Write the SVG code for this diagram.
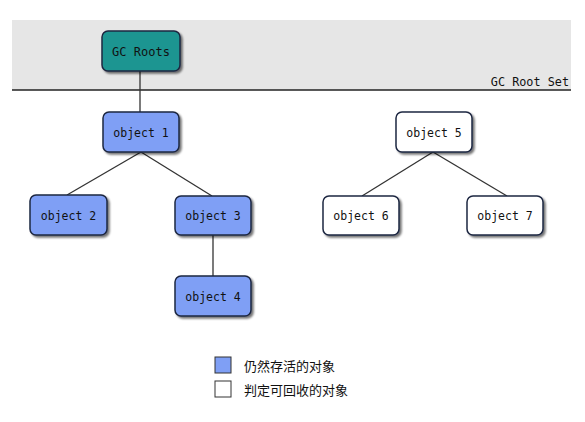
<svg xmlns="http://www.w3.org/2000/svg" width="585" height="422" viewBox="0 0 585 422">
<defs>
<filter id="sh" x="-20%" y="-20%" width="150%" height="150%">
<feGaussianBlur in="SourceAlpha" stdDeviation="1.2"/>
<feOffset dx="2" dy="2" result="b"/>
<feComponentTransfer><feFuncA type="linear" slope="0.55"/></feComponentTransfer>
<feMerge><feMergeNode/><feMergeNode in="SourceGraphic"/></feMerge>
</filter>
</defs>
<style>
.box{stroke:#1c2740;stroke-width:1.5;filter:url(#sh)}
.live{fill:#7f9ff5}
.dead{fill:#ffffff}
.root{fill:#1f9591}
.t{font-family:"DejaVu Sans Mono","Liberation Mono",monospace;font-size:11.5px;fill:#111;text-anchor:middle;dominant-baseline:central}
.edge{stroke:#333;stroke-width:1.3;fill:none}
.lg{font-family:"Noto Sans CJK SC","Noto Sans",sans-serif;font-size:13px;fill:#111;dominant-baseline:central}
</style>
<rect x="0" y="0" width="585" height="422" fill="#ffffff"/>
<rect x="12" y="20" width="559" height="70" fill="#e6e6e6"/>
<line x1="12" y1="90" x2="571" y2="90" stroke="#222" stroke-width="1.3"/>
<text x="569" y="82" class="t" style="text-anchor:end;font-size:11.8px">GC Root Set</text>
<g id="connectors">
<line class="edge" x1="140" y1="71" x2="140" y2="112"/>
<line class="edge" x1="141" y1="152" x2="67" y2="195"/>
<line class="edge" x1="141" y1="152" x2="212" y2="196"/>
<line class="edge" x1="213" y1="235" x2="213" y2="276"/>
<line class="edge" x1="433" y1="152" x2="362" y2="196"/>
<line class="edge" x1="433" y1="152" x2="507" y2="196"/>
</g>
<g id="gcroots"><rect class="box root" x="102" y="31" width="78" height="40" rx="6"/><text class="t" x="141" y="51.5" style="font-size:12px">GC Roots</text></g>
<g id="object1"><rect class="box live" x="103" y="112" width="76" height="40" rx="6"/><text class="t" x="141" y="132.5">object 1</text></g>
<g id="object2"><rect class="box live" x="30" y="195" width="77" height="40" rx="6"/><text class="t" x="68.5" y="215.5">object 2</text></g>
<g id="object3"><rect class="box live" x="175" y="196" width="76" height="39" rx="6"/><text class="t" x="213" y="216">object 3</text></g>
<g id="object4"><rect class="box live" x="175" y="276" width="76" height="40" rx="6"/><text class="t" x="213" y="296.5">object 4</text></g>
<g id="object5"><rect class="box dead" x="396" y="112" width="76" height="40" rx="6"/><text class="t" x="434" y="132.5">object 5</text></g>
<g id="object6"><rect class="box dead" x="323" y="196" width="76" height="39" rx="6"/><text class="t" x="361" y="216">object 6</text></g>
<g id="object7"><rect class="box dead" x="467" y="196" width="76" height="39" rx="6"/><text class="t" x="505" y="216">object 7</text></g>
<g id="legend">
<rect x="215" y="357" width="16" height="16" fill="#7f9ff5" stroke="#333" stroke-width="1"/>
<text class="lg" x="244" y="365">仍然存活的对象</text>
<rect x="215" y="381" width="16" height="16" fill="#ffffff" stroke="#333" stroke-width="1"/>
<text class="lg" x="244" y="389">判定可回收的对象</text>
</g>
</svg>
